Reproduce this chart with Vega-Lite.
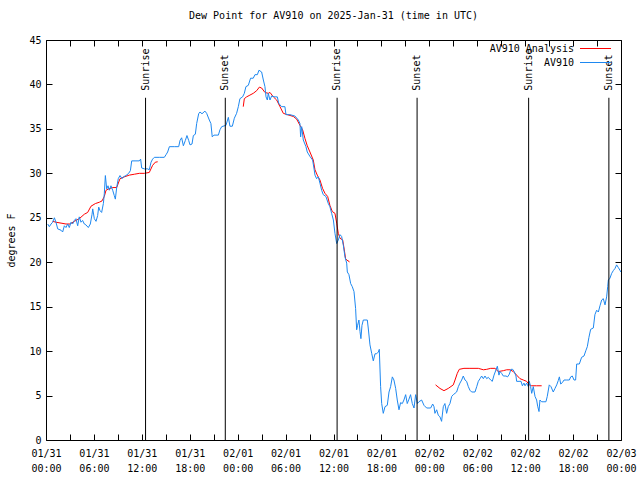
{
"$schema": "https://vega.github.io/schema/vega-lite/v6.json",
"width": 575, "height": 400,
"autosize": {"type": "none"},
"padding": {"left": 46, "top": 40, "right": 19, "bottom": 40},
"background": "white",
"title": {"text": "Dew Point for AV910 on 2025-Jan-31 (time in UTC)", "font": "DejaVu Sans Mono", "fontSize": 10, "fontWeight": "normal", "color": "black", "offset": 14, "anchor": "middle", "frame": "group"},
"config": {
  "view": {"stroke": "black", "strokeWidth": 1},
  "axis": {"domain": false, "grid": false, "tickColor": "black", "tickSize": 6, "offset": -6, "labelFont": "DejaVu Sans Mono", "labelFontSize": 10, "labelColor": "black", "titleFont": "DejaVu Sans Mono", "titleFontSize": 10, "titleFontWeight": "normal", "titleColor": "black"},
  "legend": {"labelFont": "DejaVu Sans Mono", "labelFontSize": 10, "labelColor": "black"}
},
"datasets": {
"ana": [
{"t":"2025-01-31T00:50Z","v":24.6,"g":"a1"},{"t":"2025-01-31T01:15Z","v":24.5,"g":"a1"},{"t":"2025-01-31T01:53Z","v":24.4,"g":"a1"},{"t":"2025-01-31T02:30Z","v":24.3,"g":"a1"},{"t":"2025-01-31T03:00Z","v":24.3,"g":"a1"},{"t":"2025-01-31T03:33Z","v":24.6,"g":"a1"},{"t":"2025-01-31T04:10Z","v":24.9,"g":"a1"},{"t":"2025-01-31T04:48Z","v":25.4,"g":"a1"},{"t":"2025-01-31T05:13Z","v":25.6,"g":"a1"},{"t":"2025-01-31T05:38Z","v":26.3,"g":"a1"},{"t":"2025-01-31T06:11Z","v":26.6,"g":"a1"},{"t":"2025-01-31T06:41Z","v":26.75,"g":"a1"},{"t":"2025-01-31T07:01Z","v":26.9,"g":"a1"},{"t":"2025-01-31T07:18Z","v":27.4,"g":"a1"},{"t":"2025-01-31T07:31Z","v":28.1,"g":"a1"},{"t":"2025-01-31T07:51Z","v":28.25,"g":"a1"},{"t":"2025-01-31T08:21Z","v":28.4,"g":"a1"},{"t":"2025-01-31T08:51Z","v":28.4,"g":"a1"},{"t":"2025-01-31T09:16Z","v":29.4,"g":"a1"},{"t":"2025-01-31T09:48Z","v":29.6,"g":"a1"},{"t":"2025-01-31T10:26Z","v":29.8,"g":"a1"},{"t":"2025-01-31T11:04Z","v":29.9,"g":"a1"},{"t":"2025-01-31T11:41Z","v":30.0,"g":"a1"},{"t":"2025-01-31T12:19Z","v":30.0,"g":"a1"},{"t":"2025-01-31T12:56Z","v":30.1,"g":"a1"},{"t":"2025-01-31T13:21Z","v":30.9,"g":"a1"},{"t":"2025-01-31T13:41Z","v":31.25,"g":"a1"},{"t":"2025-01-31T13:59Z","v":31.3,"g":"a1"},
{"t":"2025-02-01T00:42Z","v":37.5,"g":"a2"},{"t":"2025-02-01T00:50Z","v":38.4,"g":"a2"},{"t":"2025-02-01T01:07Z","v":38.6,"g":"a2"},{"t":"2025-02-01T01:32Z","v":38.8,"g":"a2"},{"t":"2025-02-01T01:57Z","v":39.0,"g":"a2"},{"t":"2025-02-01T02:23Z","v":39.3,"g":"a2"},{"t":"2025-02-01T02:43Z","v":39.7,"g":"a2"},{"t":"2025-02-01T03:00Z","v":39.6,"g":"a2"},{"t":"2025-02-01T03:25Z","v":39.1,"g":"a2"},{"t":"2025-02-01T03:50Z","v":39.0,"g":"a2"},{"t":"2025-02-01T04:03Z","v":39.1,"g":"a2"},{"t":"2025-02-01T04:28Z","v":38.6,"g":"a2"},{"t":"2025-02-01T04:53Z","v":38.25,"g":"a2"},{"t":"2025-02-01T05:18Z","v":37.5,"g":"a2"},{"t":"2025-02-01T05:43Z","v":36.75,"g":"a2"},{"t":"2025-02-01T06:13Z","v":36.6,"g":"a2"},{"t":"2025-02-01T06:58Z","v":36.4,"g":"a2"},{"t":"2025-02-01T07:23Z","v":36.1,"g":"a2"},{"t":"2025-02-01T07:48Z","v":35.4,"g":"a2"},{"t":"2025-02-01T08:08Z","v":34.9,"g":"a2"},{"t":"2025-02-01T08:26Z","v":33.9,"g":"a2"},{"t":"2025-02-01T08:43Z","v":33.1,"g":"a2"},{"t":"2025-02-01T09:03Z","v":32.4,"g":"a2"},{"t":"2025-02-01T09:28Z","v":31.5,"g":"a2"},{"t":"2025-02-01T09:41Z","v":30.4,"g":"a2"},{"t":"2025-02-01T09:58Z","v":29.8,"g":"a2"},{"t":"2025-02-01T10:18Z","v":29.25,"g":"a2"},{"t":"2025-02-01T10:38Z","v":28.3,"g":"a2"},{"t":"2025-02-01T10:56Z","v":27.75,"g":"a2"},{"t":"2025-02-01T11:16Z","v":27.4,"g":"a2"},{"t":"2025-02-01T11:33Z","v":26.4,"g":"a2"},{"t":"2025-02-01T11:51Z","v":25.7,"g":"a2"},{"t":"2025-02-01T12:11Z","v":25.5,"g":"a2"},{"t":"2025-02-01T12:24Z","v":24.4,"g":"a2"},{"t":"2025-02-01T12:36Z","v":23.25,"g":"a2"},{"t":"2025-02-01T12:49Z","v":22.7,"g":"a2"},{"t":"2025-02-01T13:09Z","v":22.5,"g":"a2"},{"t":"2025-02-01T13:19Z","v":21.6,"g":"a2"},{"t":"2025-02-01T13:31Z","v":20.4,"g":"a2"},{"t":"2025-02-01T13:39Z","v":20.25,"g":"a2"},{"t":"2025-02-01T13:56Z","v":20.1,"g":"a2"},{"t":"2025-02-01T13:59Z","v":20.0,"g":"a2"},
{"t":"2025-02-02T00:47Z","v":6.2,"g":"a3"},{"t":"2025-02-02T01:20Z","v":5.8,"g":"a3"},{"t":"2025-02-02T01:50Z","v":5.55,"g":"a3"},{"t":"2025-02-02T02:22Z","v":5.8,"g":"a3"},{"t":"2025-02-02T03:00Z","v":6.2,"g":"a3"},{"t":"2025-02-02T03:13Z","v":6.75,"g":"a3"},{"t":"2025-02-02T03:30Z","v":7.5,"g":"a3"},{"t":"2025-02-02T03:45Z","v":7.95,"g":"a3"},{"t":"2025-02-02T04:20Z","v":8.06,"g":"a3"},{"t":"2025-02-02T05:05Z","v":8.06,"g":"a3"},{"t":"2025-02-02T06:08Z","v":8.06,"g":"a3"},{"t":"2025-02-02T06:46Z","v":7.9,"g":"a3"},{"t":"2025-02-02T07:11Z","v":7.95,"g":"a3"},{"t":"2025-02-02T07:41Z","v":8.06,"g":"a3"},{"t":"2025-02-02T08:13Z","v":8.06,"g":"a3"},{"t":"2025-02-02T08:38Z","v":7.7,"g":"a3"},{"t":"2025-02-02T09:16Z","v":7.8,"g":"a3"},{"t":"2025-02-02T09:41Z","v":7.9,"g":"a3"},{"t":"2025-02-02T10:06Z","v":7.9,"g":"a3"},{"t":"2025-02-02T10:31Z","v":7.7,"g":"a3"},{"t":"2025-02-02T10:56Z","v":7.3,"g":"a3"},{"t":"2025-02-02T11:21Z","v":6.9,"g":"a3"},{"t":"2025-02-02T11:46Z","v":6.75,"g":"a3"},{"t":"2025-02-02T12:11Z","v":6.6,"g":"a3"},{"t":"2025-02-02T12:31Z","v":6.2,"g":"a3"},{"t":"2025-02-02T12:49Z","v":6.1,"g":"a3"},{"t":"2025-02-02T13:26Z","v":6.1,"g":"a3"},{"t":"2025-02-02T14:04Z","v":6.1,"g":"a3"}
],
"obs": [
{"t":"2025-01-31T00:13Z","v":24.3},{"t":"2025-01-31T00:25Z","v":24.0},{"t":"2025-01-31T00:38Z","v":24.3},{"t":"2025-01-31T00:50Z","v":24.5},{"t":"2025-01-31T01:03Z","v":25.0},{"t":"2025-01-31T01:15Z","v":24.5},{"t":"2025-01-31T01:28Z","v":23.75},{"t":"2025-01-31T01:53Z","v":23.6},{"t":"2025-01-31T02:05Z","v":23.4},{"t":"2025-01-31T02:18Z","v":24.1},{"t":"2025-01-31T02:30Z","v":23.9},{"t":"2025-01-31T02:43Z","v":24.3},{"t":"2025-01-31T02:55Z","v":23.9},{"t":"2025-01-31T03:08Z","v":24.5},{"t":"2025-01-31T03:20Z","v":24.3},{"t":"2025-01-31T03:33Z","v":24.7},{"t":"2025-01-31T03:45Z","v":24.9},{"t":"2025-01-31T03:58Z","v":24.1},{"t":"2025-01-31T04:10Z","v":25.1},{"t":"2025-01-31T04:23Z","v":24.5},{"t":"2025-01-31T04:35Z","v":24.7},{"t":"2025-01-31T04:48Z","v":24.3},{"t":"2025-01-31T05:00Z","v":24.2},{"t":"2025-01-31T05:18Z","v":23.9},{"t":"2025-01-31T05:33Z","v":24.3},{"t":"2025-01-31T05:46Z","v":25.4},{"t":"2025-01-31T05:51Z","v":26.0},{"t":"2025-01-31T06:03Z","v":24.9},{"t":"2025-01-31T06:16Z","v":24.6},{"t":"2025-01-31T06:28Z","v":25.25},{"t":"2025-01-31T06:36Z","v":26.2},{"t":"2025-01-31T06:46Z","v":25.8},{"t":"2025-01-31T06:58Z","v":25.6},{"t":"2025-01-31T07:11Z","v":26.6},{"t":"2025-01-31T07:18Z","v":27.7},{"t":"2025-01-31T07:26Z","v":29.75},{"t":"2025-01-31T07:36Z","v":28.25},{"t":"2025-01-31T07:46Z","v":28.6},{"t":"2025-01-31T07:56Z","v":28.1},{"t":"2025-01-31T08:08Z","v":28.6},{"t":"2025-01-31T08:21Z","v":28.1},{"t":"2025-01-31T08:33Z","v":27.5},{"t":"2025-01-31T08:41Z","v":27.1},{"t":"2025-01-31T08:51Z","v":28.4},{"t":"2025-01-31T09:03Z","v":29.4},{"t":"2025-01-31T09:16Z","v":29.75},{"t":"2025-01-31T09:31Z","v":29.4},{"t":"2025-01-31T09:41Z","v":29.6},{"t":"2025-01-31T10:01Z","v":29.75},{"t":"2025-01-31T10:21Z","v":30.0},{"t":"2025-01-31T10:34Z","v":30.3},{"t":"2025-01-31T10:44Z","v":31.4},{"t":"2025-01-31T11:16Z","v":31.4},{"t":"2025-01-31T11:41Z","v":31.4},{"t":"2025-01-31T11:51Z","v":31.6},{"t":"2025-01-31T11:59Z","v":30.6},{"t":"2025-01-31T12:19Z","v":30.5},{"t":"2025-01-31T12:44Z","v":30.5},{"t":"2025-01-31T12:56Z","v":30.4},{"t":"2025-01-31T13:09Z","v":31.25},{"t":"2025-01-31T13:21Z","v":31.6},{"t":"2025-01-31T13:34Z","v":31.8},{"t":"2025-01-31T14:11Z","v":31.8},{"t":"2025-01-31T14:49Z","v":31.8},{"t":"2025-01-31T15:02Z","v":32.1},{"t":"2025-01-31T15:14Z","v":32.4},{"t":"2025-01-31T15:27Z","v":33.0},{"t":"2025-01-31T16:04Z","v":33.0},{"t":"2025-01-31T16:37Z","v":33.0},{"t":"2025-01-31T16:47Z","v":33.7},{"t":"2025-01-31T16:59Z","v":34.0},{"t":"2025-01-31T17:12Z","v":33.1},{"t":"2025-01-31T17:27Z","v":33.7},{"t":"2025-01-31T17:39Z","v":34.25},{"t":"2025-01-31T17:52Z","v":33.7},{"t":"2025-01-31T18:02Z","v":33.2},{"t":"2025-01-31T18:17Z","v":33.3},{"t":"2025-01-31T18:27Z","v":34.25},{"t":"2025-01-31T18:42Z","v":34.4},{"t":"2025-01-31T18:52Z","v":35.6},{"t":"2025-01-31T19:07Z","v":36.7},{"t":"2025-01-31T19:17Z","v":36.9},{"t":"2025-01-31T19:32Z","v":36.7},{"t":"2025-01-31T19:54Z","v":37.0},{"t":"2025-01-31T20:07Z","v":36.75},{"t":"2025-01-31T20:27Z","v":36.0},{"t":"2025-01-31T20:39Z","v":35.6},{"t":"2025-01-31T20:49Z","v":34.1},{"t":"2025-01-31T21:02Z","v":34.3},{"t":"2025-01-31T21:35Z","v":34.3},{"t":"2025-01-31T21:47Z","v":34.9},{"t":"2025-01-31T22:00Z","v":35.25},{"t":"2025-01-31T22:32Z","v":35.4},{"t":"2025-01-31T22:50Z","v":36.3},{"t":"2025-01-31T23:02Z","v":35.3},{"t":"2025-01-31T23:20Z","v":35.3},{"t":"2025-01-31T23:35Z","v":36.2},{"t":"2025-01-31T23:52Z","v":36.75},
{"t":"2025-02-01T00:05Z","v":37.5},{"t":"2025-02-01T00:17Z","v":38.4},{"t":"2025-02-01T00:37Z","v":38.6},{"t":"2025-02-01T00:50Z","v":39.0},{"t":"2025-02-01T01:02Z","v":39.75},{"t":"2025-02-01T01:20Z","v":39.9},{"t":"2025-02-01T01:37Z","v":40.7},{"t":"2025-02-01T01:57Z","v":40.7},{"t":"2025-02-01T02:10Z","v":41.1},{"t":"2025-02-01T02:28Z","v":41.1},{"t":"2025-02-01T02:40Z","v":41.6},{"t":"2025-02-01T03:00Z","v":41.4},{"t":"2025-02-01T03:13Z","v":40.5},{"t":"2025-02-01T03:25Z","v":39.75},{"t":"2025-02-01T03:33Z","v":38.6},{"t":"2025-02-01T03:43Z","v":38.25},{"t":"2025-02-01T03:50Z","v":39.0},{"t":"2025-02-01T04:03Z","v":38.25},{"t":"2025-02-01T04:15Z","v":38.7},{"t":"2025-02-01T04:40Z","v":38.6},{"t":"2025-02-01T04:58Z","v":38.6},{"t":"2025-02-01T05:08Z","v":37.9},{"t":"2025-02-01T05:18Z","v":37.7},{"t":"2025-02-01T05:30Z","v":37.5},{"t":"2025-02-01T05:55Z","v":37.5},{"t":"2025-02-01T06:03Z","v":36.6},{"t":"2025-02-01T06:33Z","v":36.6},{"t":"2025-02-01T07:10Z","v":36.45},{"t":"2025-02-01T07:36Z","v":36.0},{"t":"2025-02-01T07:48Z","v":35.6},{"t":"2025-02-01T07:53Z","v":34.1},{"t":"2025-02-01T08:01Z","v":35.25},{"t":"2025-02-01T08:13Z","v":33.75},{"t":"2025-02-01T08:33Z","v":33.0},{"t":"2025-02-01T08:43Z","v":32.4},{"t":"2025-02-01T09:03Z","v":31.9},{"t":"2025-02-01T09:23Z","v":31.5},{"t":"2025-02-01T09:33Z","v":30.6},{"t":"2025-02-01T09:41Z","v":29.8},{"t":"2025-02-01T09:53Z","v":29.4},{"t":"2025-02-01T10:06Z","v":29.6},{"t":"2025-02-01T10:18Z","v":28.9},{"t":"2025-02-01T10:31Z","v":28.1},{"t":"2025-02-01T10:43Z","v":27.6},{"t":"2025-02-01T11:03Z","v":27.4},{"t":"2025-02-01T11:21Z","v":26.6},{"t":"2025-02-01T11:33Z","v":26.25},{"t":"2025-02-01T11:46Z","v":25.5},{"t":"2025-02-01T11:59Z","v":24.75},{"t":"2025-02-01T12:11Z","v":23.25},{"t":"2025-02-01T12:24Z","v":22.1},{"t":"2025-02-01T12:36Z","v":22.5},{"t":"2025-02-01T12:49Z","v":23.1},{"t":"2025-02-01T13:01Z","v":22.9},{"t":"2025-02-01T13:14Z","v":21.9},{"t":"2025-02-01T13:26Z","v":20.6},{"t":"2025-02-01T13:39Z","v":19.9},{"t":"2025-02-01T13:44Z","v":18.9},{"t":"2025-02-01T13:56Z","v":18.6},{"t":"2025-02-01T14:09Z","v":17.6},{"t":"2025-02-01T14:21Z","v":17.25},{"t":"2025-02-01T14:34Z","v":16.7},{"t":"2025-02-01T14:46Z","v":14.8},{"t":"2025-02-01T14:54Z","v":12.4},{"t":"2025-02-01T15:01Z","v":12.9},{"t":"2025-02-01T15:11Z","v":13.5},{"t":"2025-02-01T15:19Z","v":12.2},{"t":"2025-02-01T15:26Z","v":11.4},{"t":"2025-02-01T15:34Z","v":12.9},{"t":"2025-02-01T15:44Z","v":13.5},{"t":"2025-02-01T16:14Z","v":13.5},{"t":"2025-02-01T16:21Z","v":12.6},{"t":"2025-02-01T16:34Z","v":10.7},{"t":"2025-02-01T16:47Z","v":9.75},{"t":"2025-02-01T16:59Z","v":8.9},{"t":"2025-02-01T17:12Z","v":9.7},{"t":"2025-02-01T17:24Z","v":9.7},{"t":"2025-02-01T17:37Z","v":9.9},{"t":"2025-02-01T17:44Z","v":10.2},{"t":"2025-02-01T17:54Z","v":6.0},{"t":"2025-02-01T18:02Z","v":4.1},{"t":"2025-02-01T18:14Z","v":3.0},{"t":"2025-02-01T18:27Z","v":3.75},{"t":"2025-02-01T18:44Z","v":3.9},{"t":"2025-02-01T18:57Z","v":5.4},{"t":"2025-02-01T19:09Z","v":6.0},{"t":"2025-02-01T19:22Z","v":7.1},{"t":"2025-02-01T19:34Z","v":6.75},{"t":"2025-02-01T19:47Z","v":5.8},{"t":"2025-02-01T19:59Z","v":4.5},{"t":"2025-02-01T20:12Z","v":3.4},{"t":"2025-02-01T20:24Z","v":4.2},{"t":"2025-02-01T20:37Z","v":4.1},{"t":"2025-02-01T20:49Z","v":4.5},{"t":"2025-02-01T21:02Z","v":5.1},{"t":"2025-02-01T21:14Z","v":4.1},{"t":"2025-02-01T21:27Z","v":4.6},{"t":"2025-02-01T21:39Z","v":5.1},{"t":"2025-02-01T21:52Z","v":4.1},{"t":"2025-02-01T22:05Z","v":3.6},{"t":"2025-02-01T22:17Z","v":5.1},{"t":"2025-02-01T22:30Z","v":4.1},{"t":"2025-02-01T22:42Z","v":4.3},{"t":"2025-02-01T23:02Z","v":4.5},{"t":"2025-02-01T23:20Z","v":3.9},{"t":"2025-02-01T23:40Z","v":3.6},
{"t":"2025-02-02T00:10Z","v":3.6},{"t":"2025-02-02T00:25Z","v":4.05},{"t":"2025-02-02T00:35Z","v":3.75},{"t":"2025-02-02T00:42Z","v":3.0},{"t":"2025-02-02T00:55Z","v":3.4},{"t":"2025-02-02T01:07Z","v":2.8},{"t":"2025-02-02T01:20Z","v":2.6},{"t":"2025-02-02T01:32Z","v":2.1},{"t":"2025-02-02T01:45Z","v":3.75},{"t":"2025-02-02T01:57Z","v":4.1},{"t":"2025-02-02T02:10Z","v":3.0},{"t":"2025-02-02T02:22Z","v":3.75},{"t":"2025-02-02T02:35Z","v":4.1},{"t":"2025-02-02T02:48Z","v":4.9},{"t":"2025-02-02T03:00Z","v":5.1},{"t":"2025-02-02T03:13Z","v":5.25},{"t":"2025-02-02T03:25Z","v":5.4},{"t":"2025-02-02T03:38Z","v":6.0},{"t":"2025-02-02T03:50Z","v":6.4},{"t":"2025-02-02T04:03Z","v":6.75},{"t":"2025-02-02T04:15Z","v":7.2},{"t":"2025-02-02T04:28Z","v":6.75},{"t":"2025-02-02T04:40Z","v":6.6},{"t":"2025-02-02T04:53Z","v":6.0},{"t":"2025-02-02T05:05Z","v":5.6},{"t":"2025-02-02T05:18Z","v":5.4},{"t":"2025-02-02T05:43Z","v":5.4},{"t":"2025-02-02T05:56Z","v":6.0},{"t":"2025-02-02T06:08Z","v":6.6},{"t":"2025-02-02T06:21Z","v":6.9},{"t":"2025-02-02T06:33Z","v":7.2},{"t":"2025-02-02T06:46Z","v":6.9},{"t":"2025-02-02T06:58Z","v":7.2},{"t":"2025-02-02T07:11Z","v":6.9},{"t":"2025-02-02T07:23Z","v":7.05},{"t":"2025-02-02T07:41Z","v":6.75},{"t":"2025-02-02T07:53Z","v":6.6},{"t":"2025-02-02T08:06Z","v":7.3},{"t":"2025-02-02T08:21Z","v":7.9},{"t":"2025-02-02T08:31Z","v":8.3},{"t":"2025-02-02T08:43Z","v":7.3},{"t":"2025-02-02T08:51Z","v":7.7},{"t":"2025-02-02T09:03Z","v":7.5},{"t":"2025-02-02T09:16Z","v":7.2},{"t":"2025-02-02T09:36Z","v":7.2},{"t":"2025-02-02T09:48Z","v":7.1},{"t":"2025-02-02T10:01Z","v":7.4},{"t":"2025-02-02T10:13Z","v":7.95},{"t":"2025-02-02T10:26Z","v":7.95},{"t":"2025-02-02T10:38Z","v":7.7},{"t":"2025-02-02T10:51Z","v":7.2},{"t":"2025-02-02T10:56Z","v":6.6},{"t":"2025-02-02T11:14Z","v":6.6},{"t":"2025-02-02T11:29Z","v":6.6},{"t":"2025-02-02T11:39Z","v":6.1},{"t":"2025-02-02T11:51Z","v":6.4},{"t":"2025-02-02T11:59Z","v":6.1},{"t":"2025-02-02T12:11Z","v":6.4},{"t":"2025-02-02T12:24Z","v":6.0},{"t":"2025-02-02T12:31Z","v":6.6},{"t":"2025-02-02T12:41Z","v":6.0},{"t":"2025-02-02T12:49Z","v":5.25},{"t":"2025-02-02T13:01Z","v":6.0},{"t":"2025-02-02T13:14Z","v":4.9},{"t":"2025-02-02T13:26Z","v":4.5},{"t":"2025-02-02T13:34Z","v":3.8},{"t":"2025-02-02T13:44Z","v":3.2},{"t":"2025-02-02T13:51Z","v":4.5},{"t":"2025-02-02T14:04Z","v":4.3},{"t":"2025-02-02T14:21Z","v":4.3},{"t":"2025-02-02T14:36Z","v":4.3},{"t":"2025-02-02T14:46Z","v":4.9},{"t":"2025-02-02T15:01Z","v":6.2},{"t":"2025-02-02T15:14Z","v":6.0},{"t":"2025-02-02T15:31Z","v":5.4},{"t":"2025-02-02T15:44Z","v":5.8},{"t":"2025-02-02T15:57Z","v":6.2},{"t":"2025-02-02T16:09Z","v":6.7},{"t":"2025-02-02T16:17Z","v":7.1},{"t":"2025-02-02T16:27Z","v":6.3},{"t":"2025-02-02T16:39Z","v":6.45},{"t":"2025-02-02T16:52Z","v":6.75},{"t":"2025-02-02T17:12Z","v":6.75},{"t":"2025-02-02T17:32Z","v":6.75},{"t":"2025-02-02T17:42Z","v":7.1},{"t":"2025-02-02T17:54Z","v":7.2},{"t":"2025-02-02T18:07Z","v":6.75},{"t":"2025-02-02T18:19Z","v":6.75},{"t":"2025-02-02T18:27Z","v":8.55},{"t":"2025-02-02T18:47Z","v":8.55},{"t":"2025-02-02T19:04Z","v":9.3},{"t":"2025-02-02T19:22Z","v":9.45},{"t":"2025-02-02T19:37Z","v":10.1},{"t":"2025-02-02T19:47Z","v":10.5},{"t":"2025-02-02T19:59Z","v":11.55},{"t":"2025-02-02T20:12Z","v":12.45},{"t":"2025-02-02T20:32Z","v":12.6},{"t":"2025-02-02T20:44Z","v":14.1},{"t":"2025-02-02T20:57Z","v":14.6},{"t":"2025-02-02T21:10Z","v":14.4},{"t":"2025-02-02T21:22Z","v":15.1},{"t":"2025-02-02T21:35Z","v":15.75},{"t":"2025-02-02T21:47Z","v":15.9},{"t":"2025-02-02T22:00Z","v":15.2},{"t":"2025-02-02T22:12Z","v":16.1},{"t":"2025-02-02T22:20Z","v":17.25},{"t":"2025-02-02T22:25Z","v":18.0},{"t":"2025-02-02T22:37Z","v":18.2},{"t":"2025-02-02T22:50Z","v":18.75},{"t":"2025-02-02T23:02Z","v":19.05},{"t":"2025-02-02T23:15Z","v":19.3},{"t":"2025-02-02T23:27Z","v":19.7},{"t":"2025-02-02T23:40Z","v":19.4},{"t":"2025-02-02T23:52Z","v":19.1},{"t":"2025-02-02T23:59Z","v":18.9}
],
"sun": [
{"t":"2025-01-31T12:28Z","label":"Sunrise"},{"t":"2025-01-31T22:27Z","label":"Sunset"},{"t":"2025-02-01T12:27Z","label":"Sunrise"},{"t":"2025-02-01T22:28Z","label":"Sunset"},{"t":"2025-02-02T12:26Z","label":"Sunrise"},{"t":"2025-02-02T22:29Z","label":"Sunset"}
]
},
"layer": [
{"data": {"name": "ana"}, "mark": {"type": "line", "strokeWidth": 1, "clip": true},
 "encoding": {
  "x": {"field": "t", "type": "temporal", "scale": {"type": "utc", "domain": ["2025-01-31T00:00Z", "2025-02-03T00:00Z"]},
        "axis": {"orient": "bottom", "title": null, "tickCount": 24, "labelExpr": "utchours(datum.value) % 6 == 0 ? [utcFormat(datum.value, '%m/%d'), utcFormat(datum.value, '%H:%M')] : ''", "labelOverlap": false, "labelFlush": false, "labelBound": false, "labelPadding": 8, "labelLineHeight": 15}},
  "y": {"field": "v", "type": "quantitative", "scale": {"domain": [0, 45], "nice": false, "zero": false},
        "axis": {"orient": "left", "title": "degrees F", "values": [0,5,10,15,20,25,30,35,40,45], "labelPadding": 5, "titlePadding": 12}},
  "color": {"datum": "AV910 Analysis", "scale": {"domain": ["AV910 Analysis", "AV910"], "range": ["#ff0000", "#1e88f0"]},
            "legend": {"title": null, "orient": "none", "legendX": 541, "legendY": 0, "symbolType": "M-2,0H2", "symbolSize": 240, "symbolStrokeWidth": 1, "labelAlign": "right", "labelOffset": -30, "rowPadding": 0, "padding": 0}},
  "detail": {"field": "g"}
 }},
{"data": {"name": "obs"}, "mark": {"type": "line", "strokeWidth": 1, "clip": true},
 "encoding": {
  "x": {"field": "t", "type": "temporal", "axis": {"orient": "top", "title": null, "labels": false, "tickCount": 24}},
  "y": {"field": "v", "type": "quantitative", "axis": {"orient": "right", "title": null, "labels": false, "values": [0,5,10,15,20,25,30,35,40,45]}},
  "color": {"datum": "AV910"}
 }},
{"data": {"name": "sun"}, "mark": {"type": "rule", "color": "black", "strokeWidth": 1},
 "encoding": {
  "x": {"field": "t", "type": "temporal", "axis": null},
  "y": {"datum": 0, "type": "quantitative", "axis": null},
  "y2": {"datum": 38.5}
 }},
{"data": {"name": "sun"}, "mark": {"type": "text", "angle": 270, "align": "left", "baseline": "middle", "font": "DejaVu Sans Mono", "fontSize": 10, "color": "black"},
 "encoding": {
  "x": {"field": "t", "type": "temporal", "axis": null},
  "y": {"datum": 39.3, "type": "quantitative", "axis": null},
  "text": {"field": "label"}
 }}
],
"resolve": {"axis": {"x": "independent", "y": "independent"}}
}
